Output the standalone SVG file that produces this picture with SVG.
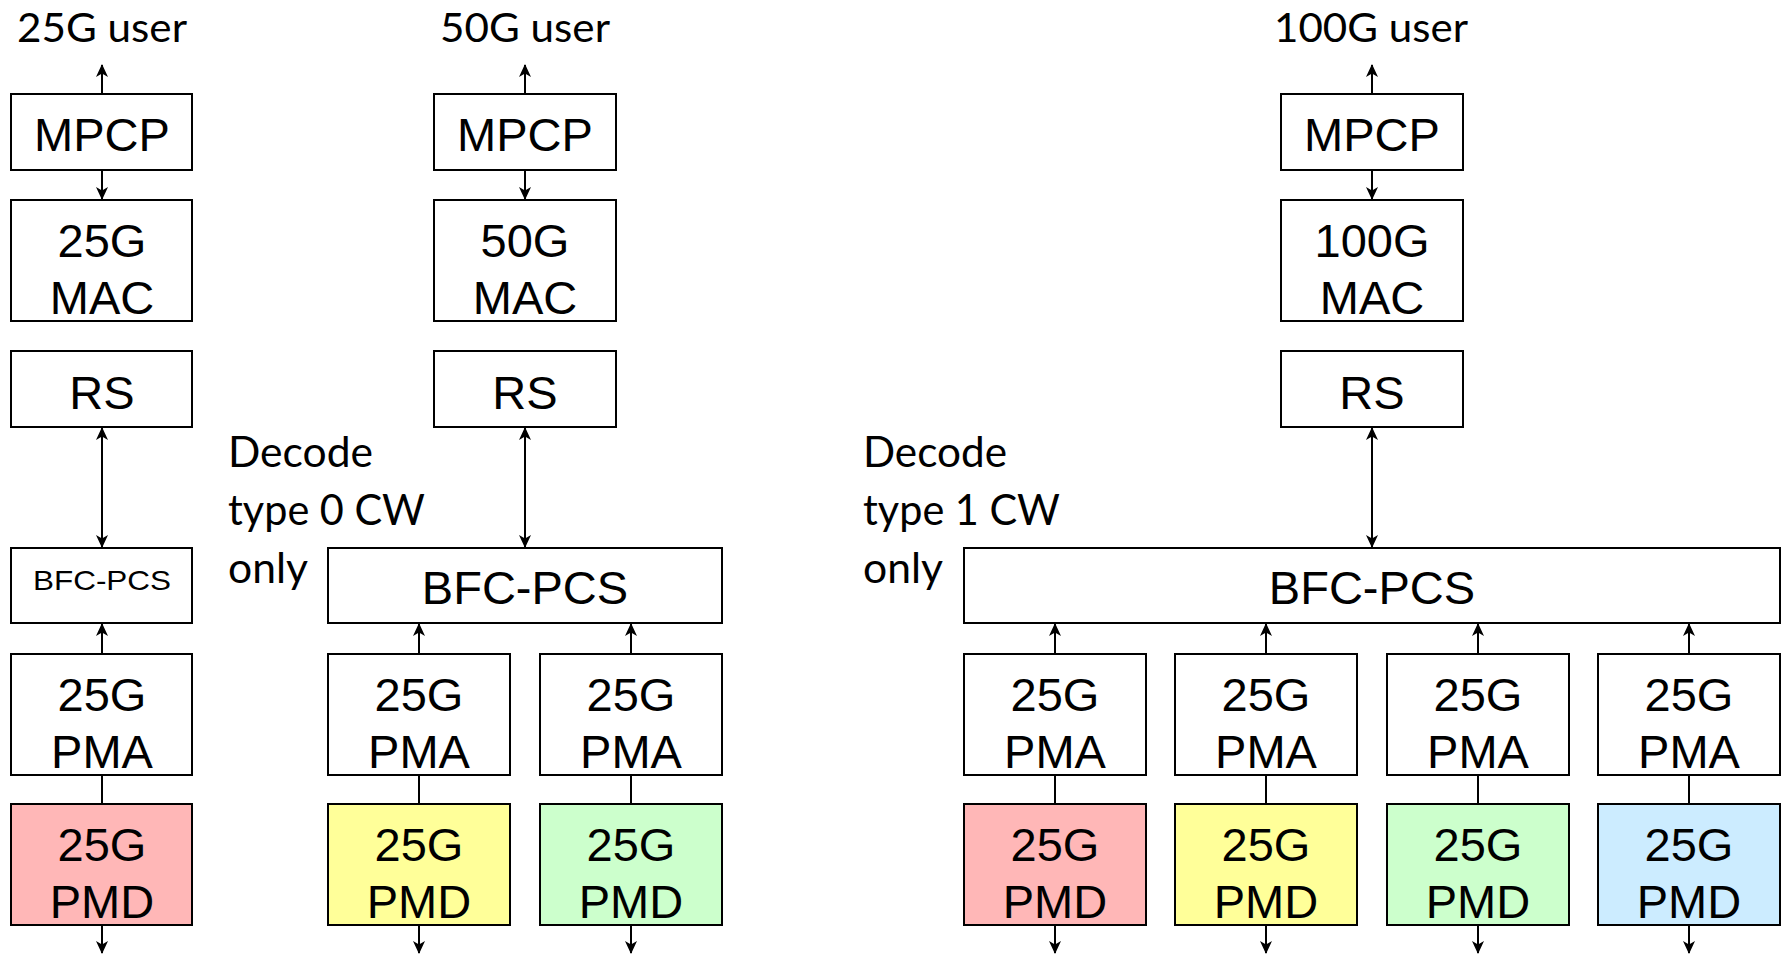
<svg xmlns="http://www.w3.org/2000/svg" width="1786" height="956" viewBox="0 0 1786 956">
<defs>
<marker id="ah" markerUnits="userSpaceOnUse" viewBox="0 0 13 12" refX="12" refY="6" markerWidth="13" markerHeight="12" orient="auto-start-reverse">
<path d="M0,0 L13,6 L0,12 L3.5,6 Z" fill="#000"/>
</marker>
<style>
.box{fill:#fff;stroke:#000;stroke-width:2}
.red{fill:#FFB7B7}.yel{fill:#FFFF99}.grn{fill:#CCFFCC}.blu{fill:#CCECFF}
.t{font-family:"Liberation Sans",Arial,sans-serif;font-size:47px;text-anchor:middle;fill:#000}
.lbl{font-family:Lato,"Open Sans",sans-serif;font-size:43px;fill:#000}
.usr{font-family:Lato,"Open Sans",sans-serif;font-size:40px;text-anchor:middle;fill:#000}
.c{stroke:#000;stroke-width:2;fill:none}
.a{marker-end:url(#ah)}
.aa{marker-start:url(#ah);marker-end:url(#ah)}
</style>
</defs>
<rect width="1786" height="956" fill="#fff"/>

<g id="labels">
<text class="usr" x="102" y="42" textLength="170" lengthAdjust="spacingAndGlyphs">25G user</text>
<text class="usr" x="525" y="42" textLength="170" lengthAdjust="spacingAndGlyphs">50G user</text>
<text class="usr" x="1371" y="42" textLength="194" lengthAdjust="spacingAndGlyphs">100G user</text>
<text class="lbl" x="228" y="467" textLength="145" lengthAdjust="spacingAndGlyphs">Decode</text>
<text class="lbl" x="228" y="525" textLength="197" lengthAdjust="spacingAndGlyphs">type 0 CW</text>
<text class="lbl" x="228" y="583" textLength="80" lengthAdjust="spacingAndGlyphs">only</text>
<text class="lbl" x="863" y="467" textLength="144" lengthAdjust="spacingAndGlyphs">Decode</text>
<text class="lbl" x="863" y="525" textLength="197" lengthAdjust="spacingAndGlyphs">type 1 CW</text>
<text class="lbl" x="863" y="583" textLength="80" lengthAdjust="spacingAndGlyphs">only</text>
</g>

<g id="connectors">
<line class="c a" x1="102" y1="94" x2="102" y2="65"/>
<line class="c a" x1="102" y1="170" x2="102" y2="199"/>
<line class="c aa" x1="102" y1="428" x2="102" y2="547"/>
<line class="c a" x1="102" y1="654" x2="102" y2="624"/>
<line class="c" x1="102" y1="775" x2="102" y2="804"/>
<line class="c a" x1="102" y1="925" x2="102" y2="953"/>

<line class="c a" x1="525" y1="94" x2="525" y2="65"/>
<line class="c a" x1="525" y1="170" x2="525" y2="199"/>
<line class="c aa" x1="525" y1="428" x2="525" y2="547"/>
<line class="c a" x1="419" y1="654" x2="419" y2="624"/>
<line class="c a" x1="631" y1="654" x2="631" y2="624"/>
<line class="c" x1="419" y1="775" x2="419" y2="804"/>
<line class="c" x1="631" y1="775" x2="631" y2="804"/>
<line class="c a" x1="419" y1="925" x2="419" y2="953"/>
<line class="c a" x1="631" y1="925" x2="631" y2="953"/>

<line class="c a" x1="1372" y1="94" x2="1372" y2="65"/>
<line class="c a" x1="1372" y1="170" x2="1372" y2="199"/>
<line class="c aa" x1="1372" y1="428" x2="1372" y2="547"/>
<line class="c a" x1="1055" y1="654" x2="1055" y2="624"/>
<line class="c a" x1="1266" y1="654" x2="1266" y2="624"/>
<line class="c a" x1="1478" y1="654" x2="1478" y2="624"/>
<line class="c a" x1="1689" y1="654" x2="1689" y2="624"/>
<line class="c" x1="1055" y1="775" x2="1055" y2="804"/>
<line class="c" x1="1266" y1="775" x2="1266" y2="804"/>
<line class="c" x1="1478" y1="775" x2="1478" y2="804"/>
<line class="c" x1="1689" y1="775" x2="1689" y2="804"/>
<line class="c a" x1="1055" y1="925" x2="1055" y2="953"/>
<line class="c a" x1="1266" y1="925" x2="1266" y2="953"/>
<line class="c a" x1="1478" y1="925" x2="1478" y2="953"/>
<line class="c a" x1="1689" y1="925" x2="1689" y2="953"/>
</g>

<!-- Column 1 -->
<g id="mpcp1"><rect class="box" x="11" y="94" width="181" height="76"/><text class="t" x="102" y="151">MPCP</text></g>
<g id="mac1"><rect class="box" x="11" y="200" width="181" height="121"/><text class="t" x="102" y="257">25G</text><text class="t" x="102" y="314">MAC</text></g>
<g id="rs1"><rect class="box" x="11" y="351" width="181" height="76"/><text class="t" x="102" y="409">RS</text></g>
<g id="pcs1"><rect class="box" x="11" y="548" width="181" height="75"/><text class="t" x="102" y="590" style="font-size:28px" textLength="138" lengthAdjust="spacingAndGlyphs">BFC-PCS</text></g>
<g id="pma1"><rect class="box" x="11" y="654" width="181" height="121"/><text class="t" x="102" y="711">25G</text><text class="t" x="102" y="768">PMA</text></g>
<g id="pmd1"><rect class="box red" x="11" y="804" width="181" height="121"/><text class="t" x="102" y="861">25G</text><text class="t" x="102" y="918">PMD</text></g>

<!-- Column 2 -->
<g id="mpcp2"><rect class="box" x="434" y="94" width="182" height="76"/><text class="t" x="525" y="151">MPCP</text></g>
<g id="mac2"><rect class="box" x="434" y="200" width="182" height="121"/><text class="t" x="525" y="257">50G</text><text class="t" x="525" y="314">MAC</text></g>
<g id="rs2"><rect class="box" x="434" y="351" width="182" height="76"/><text class="t" x="525" y="409">RS</text></g>
<g id="pcs2"><rect class="box" x="328" y="548" width="394" height="75"/><text class="t" x="525" y="604">BFC-PCS</text></g>
<g id="pma2a"><rect class="box" x="328" y="654" width="182" height="121"/><text class="t" x="419" y="711">25G</text><text class="t" x="419" y="768">PMA</text></g>
<g id="pma2b"><rect class="box" x="540" y="654" width="182" height="121"/><text class="t" x="631" y="711">25G</text><text class="t" x="631" y="768">PMA</text></g>
<g id="pmd2a"><rect class="box yel" x="328" y="804" width="182" height="121"/><text class="t" x="419" y="861">25G</text><text class="t" x="419" y="918">PMD</text></g>
<g id="pmd2b"><rect class="box grn" x="540" y="804" width="182" height="121"/><text class="t" x="631" y="861">25G</text><text class="t" x="631" y="918">PMD</text></g>

<!-- Column 3 -->
<g id="mpcp3"><rect class="box" x="1281" y="94" width="182" height="76"/><text class="t" x="1372" y="151">MPCP</text></g>
<g id="mac3"><rect class="box" x="1281" y="200" width="182" height="121"/><text class="t" x="1372" y="257">100G</text><text class="t" x="1372" y="314">MAC</text></g>
<g id="rs3"><rect class="box" x="1281" y="351" width="182" height="76"/><text class="t" x="1372" y="409">RS</text></g>
<g id="pcs3"><rect class="box" x="964" y="548" width="816" height="75"/><text class="t" x="1372" y="604">BFC-PCS</text></g>
<g id="pma3a"><rect class="box" x="964" y="654" width="182" height="121"/><text class="t" x="1055" y="711">25G</text><text class="t" x="1055" y="768">PMA</text></g>
<g id="pma3b"><rect class="box" x="1175" y="654" width="182" height="121"/><text class="t" x="1266" y="711">25G</text><text class="t" x="1266" y="768">PMA</text></g>
<g id="pma3c"><rect class="box" x="1387" y="654" width="182" height="121"/><text class="t" x="1478" y="711">25G</text><text class="t" x="1478" y="768">PMA</text></g>
<g id="pma3d"><rect class="box" x="1598" y="654" width="182" height="121"/><text class="t" x="1689" y="711">25G</text><text class="t" x="1689" y="768">PMA</text></g>
<g id="pmd3a"><rect class="box red" x="964" y="804" width="182" height="121"/><text class="t" x="1055" y="861">25G</text><text class="t" x="1055" y="918">PMD</text></g>
<g id="pmd3b"><rect class="box yel" x="1175" y="804" width="182" height="121"/><text class="t" x="1266" y="861">25G</text><text class="t" x="1266" y="918">PMD</text></g>
<g id="pmd3c"><rect class="box grn" x="1387" y="804" width="182" height="121"/><text class="t" x="1478" y="861">25G</text><text class="t" x="1478" y="918">PMD</text></g>
<g id="pmd3d"><rect class="box blu" x="1598" y="804" width="182" height="121"/><text class="t" x="1689" y="861">25G</text><text class="t" x="1689" y="918">PMD</text></g>
</svg>
